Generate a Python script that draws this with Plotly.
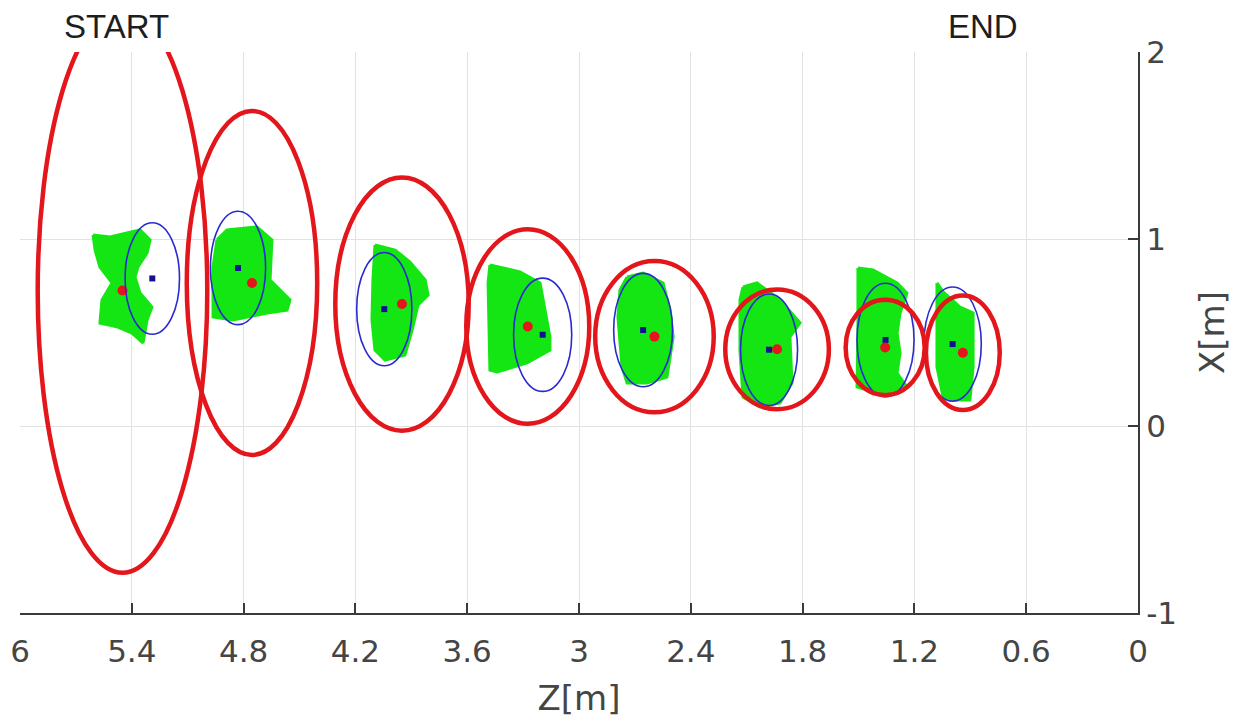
import plotly.graph_objects as go

# Ground-plane positions along the path: Z (depth) and X (lateral), metres
z_ticks = [6, 5.4, 4.8, 4.2, 3.6, 3, 2.4, 1.8, 1.2, 0.6, 0]
x_ticks = [-1, 0, 1, 2]

# Filter estimates (red) with their 1-sigma ellipse half-widths
est_z = [5.45, 4.755, 3.95, 3.275, 2.595, 1.937, 1.357, 0.94]
est_x = [0.725, 0.765, 0.652, 0.532, 0.478, 0.41, 0.42, 0.392]
est_sz = [0.455, 0.35, 0.358, 0.33, 0.318, 0.278, 0.212, 0.198]
est_sx = [1.51, 0.92, 0.677, 0.52, 0.404, 0.32, 0.255, 0.306]

# Measurement means (blue) with their spread ellipses
meas_z = [5.29, 4.83, 4.045, 3.195, 2.656, 1.98, 1.355, 0.995]
meas_x = [0.789, 0.845, 0.625, 0.488, 0.513, 0.408, 0.46, 0.438]
meas_sz = [0.146, 0.148, 0.148, 0.156, 0.158, 0.153, 0.153, 0.154]
meas_sx = [0.298, 0.303, 0.303, 0.303, 0.303, 0.298, 0.303, 0.305]

# Outlines of the raw measurement clouds (green)
cloud_z = [
    [5.608, 5.517, 5.356, 5.302, 5.318, 5.367, 5.383, 5.356, 5.292, 5.318, 5.340,
     5.399, 5.474, 5.571, 5.560, 5.506, 5.571, 5.597],
    [4.943, 4.889, 4.728, 4.648, 4.658, 4.551, 4.567, 4.674, 4.857, 4.964, 4.964],
    [4.095, 3.987, 3.907, 3.826, 3.810, 3.864, 3.896, 3.934, 4.041, 4.095, 4.111, 4.106],
    [3.478, 3.317, 3.209, 3.172, 3.156, 3.156, 3.279, 3.440, 3.478, 3.488],
    [2.742, 2.656, 2.549, 2.512, 2.495, 2.528, 2.635, 2.742, 2.769, 2.791, 2.780],
    [2.120, 2.045, 1.921, 1.814, 1.868, 1.857, 1.921, 2.029, 2.120, 2.136, 2.136],
    [1.503, 1.422, 1.293, 1.240, 1.277, 1.293, 1.277, 1.293, 1.240, 1.331, 1.454,
     1.508, 1.503],
    [1.079, 1.046, 0.955, 0.885, 0.885, 0.902, 0.971, 1.046, 1.079, 1.079],
]
cloud_x = [
    [1.021, 1.011, 1.048, 0.995, 0.925, 0.850, 0.797, 0.711, 0.636, 0.567, 0.444,
     0.497, 0.529, 0.551, 0.674, 0.765, 0.850, 0.941],
    [0.995, 1.048, 1.064, 0.995, 0.781, 0.674, 0.620, 0.604, 0.567, 0.583, 0.850],
    [0.968, 0.941, 0.877, 0.781, 0.701, 0.647, 0.513, 0.380, 0.353, 0.406, 0.567, 0.781],
    [0.861, 0.824, 0.765, 0.551, 0.476, 0.406, 0.337, 0.289, 0.299, 0.765],
    [0.797, 0.818, 0.765, 0.620, 0.476, 0.262, 0.230, 0.230, 0.316, 0.583, 0.727],
    [0.743, 0.765, 0.674, 0.551, 0.476, 0.230, 0.123, 0.102, 0.155, 0.406, 0.674],
    [0.845, 0.834, 0.765, 0.711, 0.604, 0.497, 0.390, 0.283, 0.209, 0.176, 0.193,
     0.209, 0.497],
    [0.765, 0.717, 0.636, 0.604, 0.316, 0.139, 0.139, 0.155, 0.316, 0.636],
]

GREEN = "#14e614"
RED = "#e3161b"
BLUE = "#2a2ad0"
DOT_BLUE = "#12128f"
TICK_FONT = dict(family="DejaVu Sans", size=31, color="#454545")
TITLE_FONT = dict(family="DejaVu Sans", size=34, color="#454545")
LABEL_FONT = dict(family="Liberation Sans", size=33, color="#1e1e1e")

fig = go.Figure()

for cz, cx in zip(cloud_z, cloud_x):
    fig.add_trace(go.Scatter(
        x=cz + [cz[0]], y=cx + [cx[0]], mode="lines", fill="toself",
        fillcolor=GREEN, line=dict(color=GREEN, width=3),
        hoverinfo="skip", showlegend=False,
    ))

fig.add_trace(go.Scatter(
    x=meas_z, y=meas_x, mode="markers",
    marker=dict(symbol="square", size=6, color=DOT_BLUE),
    showlegend=False, name="measurement mean",
))
fig.add_trace(go.Scatter(
    x=est_z, y=est_x, mode="markers",
    marker=dict(symbol="circle", size=10, color=RED, line=dict(width=0)),
    showlegend=False, name="estimate",
))

shapes = []
for z, x, a, b in zip(meas_z, meas_x, meas_sz, meas_sx):
    shapes.append(dict(type="circle", xref="x", yref="y",
                       x0=z - a, x1=z + a, y0=x - b, y1=x + b,
                       line=dict(color=BLUE, width=1.6), layer="above"))
for z, x, a, b in zip(est_z, est_x, est_sz, est_sx):
    shapes.append(dict(type="circle", xref="x", yref="y",
                       x0=z - a, x1=z + a, y0=x - b, y1=x + b,
                       line=dict(color=RED, width=4.5), layer="above"))

fig.update_layout(
    width=1255, height=720,
    margin=dict(l=20, r=117, t=52, b=107, autoexpand=False),
    paper_bgcolor="white", plot_bgcolor="white",
    shapes=shapes,
    annotations=[
        dict(text="START", x=5.48, y=1.046, xref="x", yref="paper", showarrow=False,
             font=LABEL_FONT, yanchor="middle"),
        dict(text="END", x=0.832, y=1.046, xref="x", yref="paper", showarrow=False,
             font=LABEL_FONT, yanchor="middle"),
    ],
    xaxis=dict(
        range=[6, 0], tickvals=z_ticks, ticktext=[f"{v:g}" for v in z_ticks],
        showgrid=True, gridcolor="#e2e2e2", gridwidth=1, zeroline=False,
        showline=True, linecolor="#3a3a3a", linewidth=2,
        ticks="inside", ticklen=10, tickcolor="#3a3a3a", tickwidth=1.5,
        tickfont=TICK_FONT, automargin=False, ticklabelstandoff=10,
        title=dict(text="Z[m]", font=TITLE_FONT, standoff=18),
    ),
    yaxis=dict(
        range=[-1, 2], tickvals=x_ticks, ticktext=[f"{v:g}" for v in x_ticks],
        side="right",
        showgrid=True, gridcolor="#e2e2e2", gridwidth=1, zeroline=False,
        showline=True, linecolor="#3a3a3a", linewidth=2,
        ticks="inside", ticklen=10, tickcolor="#3a3a3a", tickwidth=1.5,
        tickfont=TICK_FONT, automargin=False,
        title=dict(text="X[m]", font=TITLE_FONT, standoff=24),
    ),
)

fig.write_html("out.html")
